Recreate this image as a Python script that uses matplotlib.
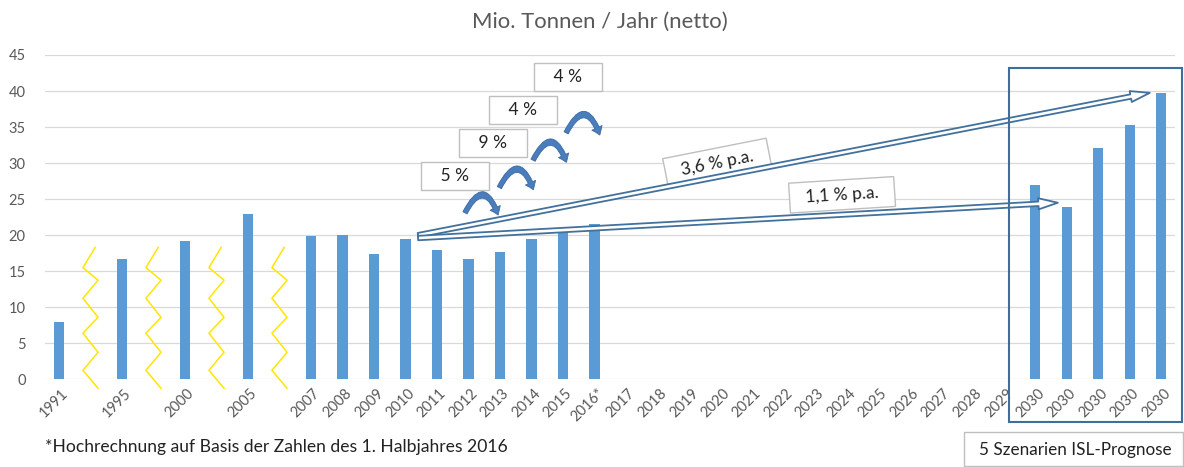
import numpy as np
import matplotlib
matplotlib.use("Agg")
import matplotlib.pyplot as plt
import matplotlib.patches as patches
import matplotlib.transforms as mtransforms

plt.rcParams['font.family'] = ['Lato', 'DejaVu Sans']

W, H = 1184, 467

# categories (empty label = break marker slot)
labels = ['1991', '', '1995', '', '2000', '', '2005', '',
          '2007', '2008', '2009', '2010', '2011', '2012', '2013', '2014', '2015', '2016*',
          '2017', '2018', '2019', '2020', '2021', '2022', '2023', '2024', '2025',
          '2026', '2027', '2028', '2029',
          '2030', '2030', '2030', '2030', '2030']
values = [8.0, None, 16.7, None, 19.2, None, 22.9, None,
          19.9, 20.0, 17.4, 19.4, 18.0, 16.7, 17.7, 19.4, 20.5, 21.5,
          None, None, None, None, None, None, None, None, None,
          None, None, None, None,
          27.0, 23.9, 32.1, 35.3, 39.7]
growth_labels = ['5 %', '9 %', '4 %', '4 %']
trend_labels = ['3,6 % p.a.', '1,1 % p.a.']

x = np.arange(len(labels))
y = np.array([np.nan if v is None else v for v in values])
breaks = [i for i, l in enumerate(labels) if l == '']

fig = plt.figure(figsize=(W / 100, H / 100), dpi=100)
ax = fig.add_axes([45 / W, 1 - 379.3 / H, 1130 / W, 324.3 / H])

ax.bar(x, y, width=0.32, color='#5B9BD5', zorder=3)
ax.set_xlim(-0.444, 35.43)
ax.set_ylim(0, 45)
ax.set_yticks(range(0, 50, 5))
ax.grid(axis='y', color='#D9D9D9', lw=0.9, zorder=0)
for s in ax.spines.values():
    s.set_visible(False)
ax.tick_params(length=0, colors='#595959', labelsize=10.5)
ax.tick_params(axis='y', pad=14)

tick_pos = [i for i, l in enumerate(labels) if l]
ax.set_xticks(tick_pos, [labels[i] for i in tick_pos], rotation=45,
              ha='right', va='center', rotation_mode='anchor', fontsize=10.5)
off = mtransforms.ScaledTranslation(7 / 100, -7 / 100, fig.dpi_scale_trans)
for t in ax.get_xticklabels():
    t.set_transform(t.get_transform() + off)

# yellow break zigzags
zig_dx = [0.15, -0.24, 0.24, -0.24, 0.24, -0.24, 0.24, -0.24, 0.24]
zig_y = [18.3, 15.5, 13.75, 11.25, 8.6, 6.4, 3.75, 1.25, -1.25]
for b in breaks:
    ax.plot([b + d for d in zig_dx], zig_y, color='#FFE600', lw=1.1,
            clip_on=False, zorder=4)

# hollow trend arrows
edge = '#41719C'
for (x0, y0), (x1, y1) in [((11.4, 20.0), (34.63, 39.75)),
                           ((11.4, 19.6), (31.71, 24.5))]:
    arr = patches.FancyArrowPatch(
        (x0, y0), (x1, y1),
        arrowstyle=patches.ArrowStyle.Simple(head_length=14, head_width=8, tail_width=3.2),
        shrinkA=0, shrinkB=0, facecolor='white', edgecolor=edge, lw=1.3, zorder=6)
    ax.add_patch(arr)

# rotated trend label boxes
for txt, (cx, cy), rot in zip(trend_labels, [(20.9, 30.0), (24.86, 25.6)], [11.2, 3.6]):
    ax.text(cx, cy, '  ' + txt + '  ', ha='center', va='center', rotation=rot,
            rotation_mode='anchor', fontsize=12.5, color='#222222', zorder=5,
            bbox=dict(boxstyle='square,pad=0.4', fc='white', ec='#BFBFBF', lw=1))

# curved growth arrows
curve_col = '#4A7DBB'
for (x0, y0), (x1, y1) in [((12.89, 23.1), (13.94, 22.8)),
                           ((13.98, 26.6), (15.06, 26.3)),
                           ((15.05, 30.4), (16.11, 30.1)),
                           ((16.1, 34.2), (17.17, 33.9))]:
    arr = patches.FancyArrowPatch(
        (x0, y0), (x1, y1), connectionstyle='arc3,rad=-1.15',
        arrowstyle=patches.ArrowStyle.Simple(head_length=5.5, head_width=8, tail_width=3.4),
        shrinkA=0, shrinkB=0, facecolor=curve_col, edgecolor='#3B6AA3', lw=0.6, zorder=6)
    ax.add_patch(arr)

# growth % boxes
for txt, (cx, cy) in zip(growth_labels, [(12.57, 28.2), (13.78, 32.8), (14.73, 37.4), (16.16, 41.9)]):
    ax.text(cx, cy, '   ' + txt + '   ', ha='center', va='center', fontsize=12.5,
            color='#222222', zorder=5,
            bbox=dict(boxstyle='square,pad=0.35', fc='white', ec='#BFBFBF', lw=1))

# scenario frame and label (figure pixel coords)
def fx(px):
    return px / W

def fy(py):
    return 1 - py / H

fig.patches.append(patches.Rectangle((fx(1008.5), fy(422)), fx(1182) - fx(1008.5), fy(68) - fy(422),
                                     transform=fig.transFigure, fill=False, ec='#3E6E9E', lw=1.5,
                                     zorder=7))
fig.patches.append(patches.Rectangle((fx(964), fy(466)), fx(1183) - fx(964), fy(432) - fy(466),
                                     transform=fig.transFigure, fill=False, ec='#BFBFBF', lw=1,
                                     zorder=7))
fig.text(fx(1075), fy(450), '5 Szenarien ISL-Prognose', ha='center', va='center',
         fontsize=12.3, color='#222222')

fig.text(fx(600), fy(22), 'Mio. Tonnen / Jahr (netto)', ha='center', va='center',
         fontsize=15.9, color='#595959')
fig.text(fx(45), fy(447), '*Hochrechnung auf Basis der Zahlen des 1. Halbjahres 2016',
         ha='left', va='center', fontsize=12.6, color='#222222')

fig.savefig('out.png', dpi=100)
